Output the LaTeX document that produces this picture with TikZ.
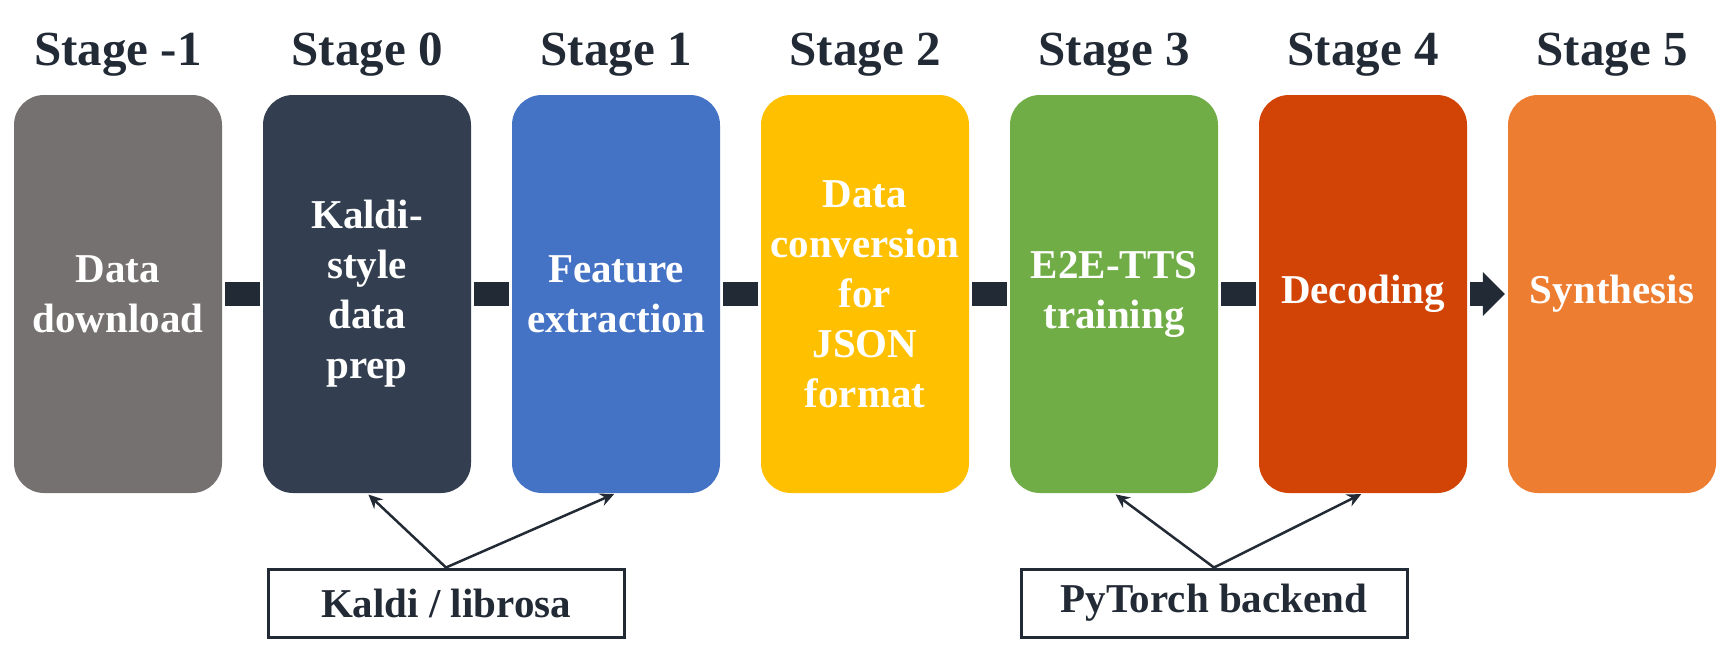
\documentclass[tikz,border=0pt]{standalone}
\usepackage{fontspec}
\setmainfont{Liberation Serif}
\usetikzlibrary{arrows.meta,positioning}
\definecolor{inkdark}{HTML}{222A35}
\definecolor{stgray}{HTML}{767171}
\definecolor{stnavy}{HTML}{333F50}
\definecolor{stblue}{HTML}{4472C4}
\definecolor{stgold}{HTML}{FFC000}
\definecolor{stgreen}{HTML}{70AD47}
\definecolor{strust}{HTML}{D24405}
\definecolor{storange}{HTML}{ED7D31}
\tikzset{
  stagebox/.style={rectangle, rounded corners=30pt, minimum width=208pt,
    minimum height=398pt, text width=200pt, align=center, text=white,
    font=\fontsize{41}{50}\selectfont\bfseries, inner sep=0pt},
  stagelabel/.style={anchor=base, text=inkdark,
    font=\fontsize{49}{59}\selectfont\bfseries},
  toolbox/.style={draw=inkdark, line width=3pt, minimum height=68pt,
    text=inkdark, font=\fontsize{41}{50}\selectfont\bfseries},
  bar/.style={draw=inkdark, line width=24pt, shorten <=3pt, shorten >=3pt},
  uses/.style={draw=inkdark, line width=2.5pt, ->, shorten >=2pt}
}
\begin{document}
\begin{tikzpicture}[x=1pt,y=-1pt,>={Stealth[length=14pt,width=13pt]}]
\useasboundingbox (0,0) rectangle (1720,653);

% The stages
\foreach \i/\col/\name/\txt in {
  0/stgray/-1/{Data\\download},
  1/stnavy/0/{Kaldi-\\style\\data\\prep},
  2/stblue/1/{Feature\\extraction},
  3/stgold/2/{Data\\conversion\\for\\JSON\\format},
  4/stgreen/3/{E2E-TTS\\training},
  5/strust/4/{Decoding},
  6/storange/5/{Synthesis}} {
  \node[stagebox, fill=\col] (s\i) at (118+249*\i,294) {\txt};
  \node[stagelabel] (l\i) at (118+249*\i,65) {Stage \name};
}

% The links between stages
\foreach \i [evaluate=\i as \j using int(\i+1)] in {0,...,4}
  \draw[bar] (s\i.east) -- (s\j.west);
\draw[bar, -{Triangle[length=22pt,width=43pt]}] (s5.east) -- (s6.west);

% The toolkits
\node[toolbox, minimum width=356pt] (kaldi) at (446,603) {Kaldi / librosa};
\node[toolbox, minimum width=386pt] (torch) at (1214,603) {PyTorch backend};

\draw[uses] (kaldi.north) -- (s1.south);
\draw[uses] (kaldi.north) -- (s2.south);
\draw[uses] (torch.north) -- (s4.south);
\draw[uses] (torch.north) -- (s5.south);
\end{tikzpicture}
\end{document}
